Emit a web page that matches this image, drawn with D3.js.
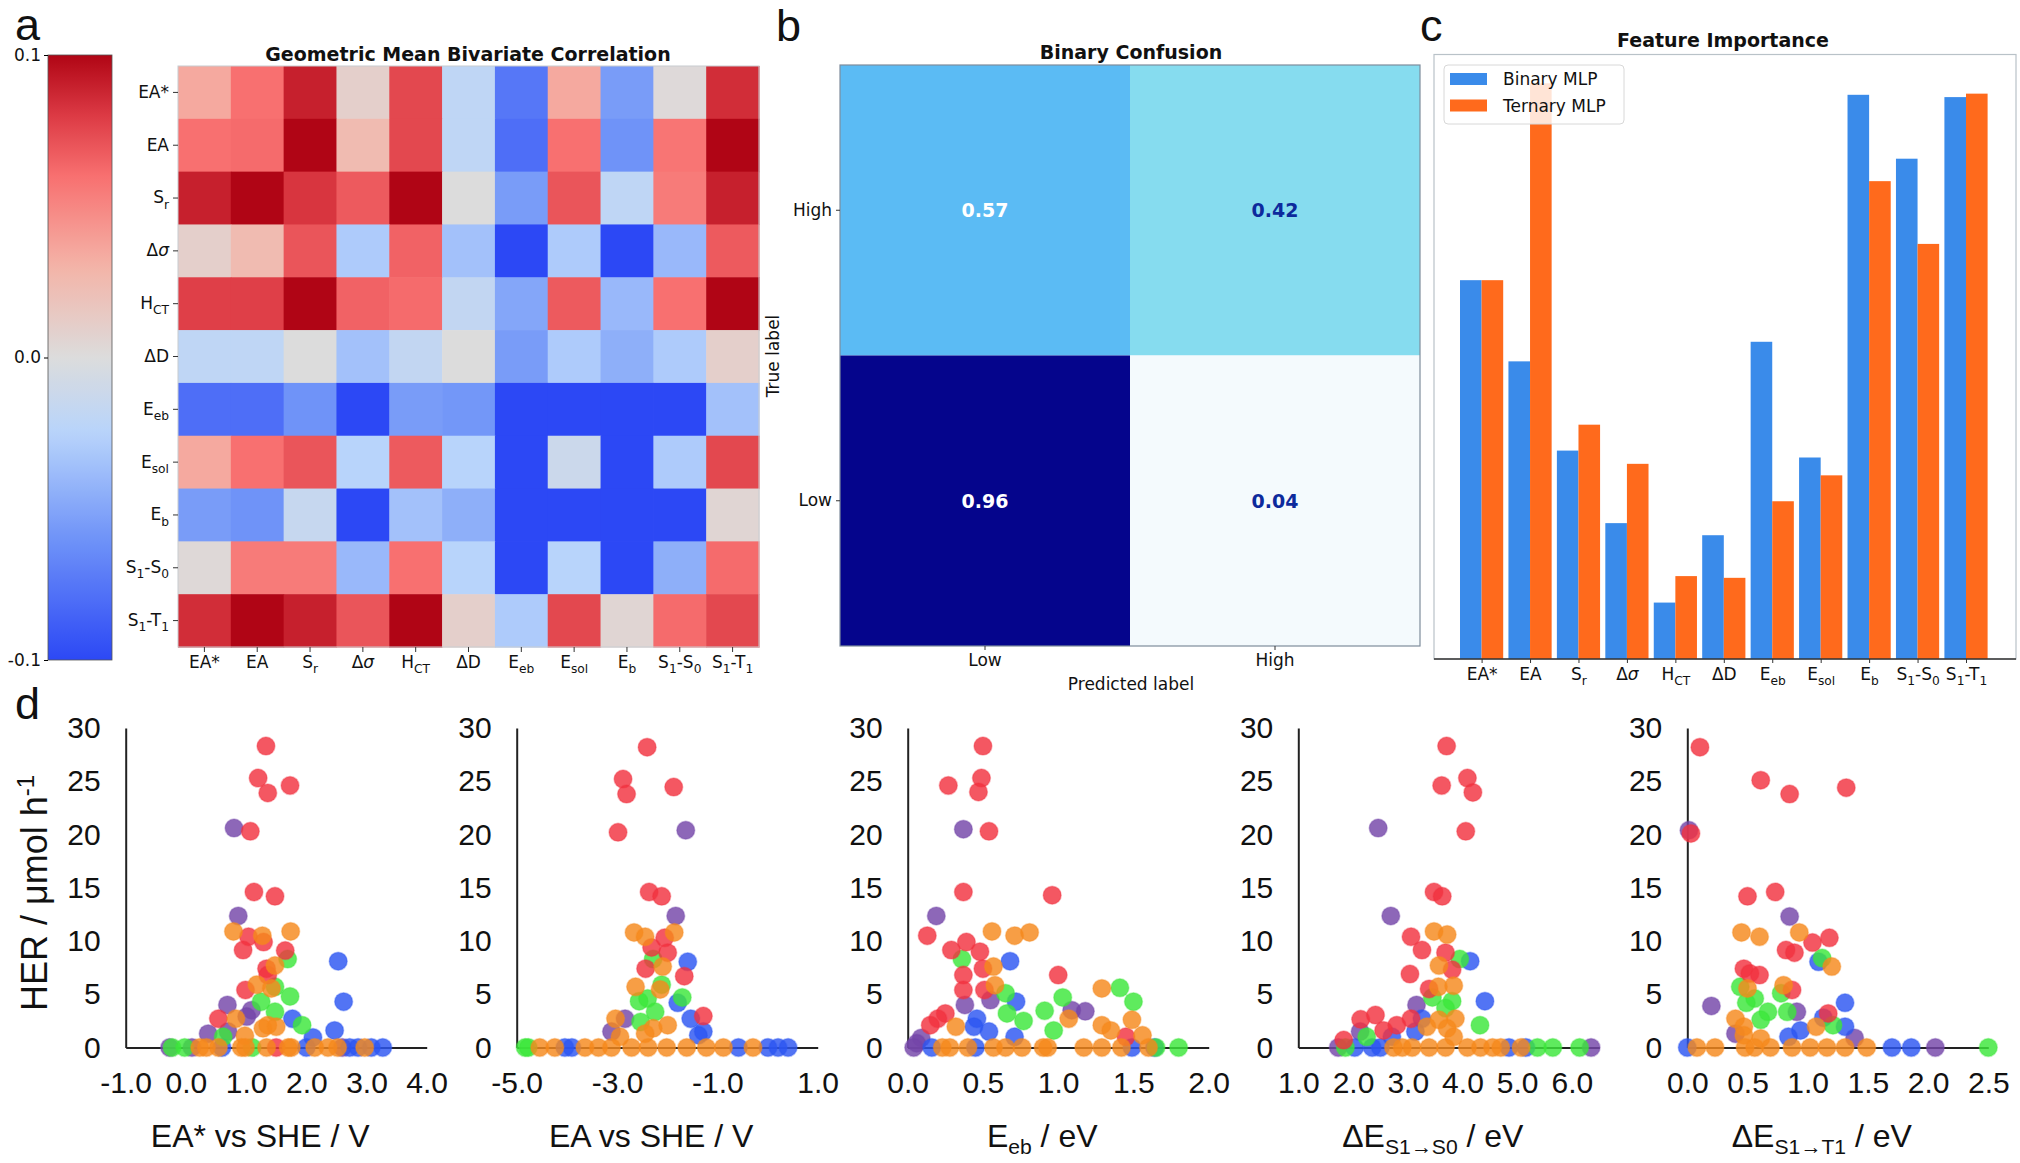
<!DOCTYPE html>
<html><head><meta charset="utf-8">
<script src="https://cdn.jsdelivr.net/npm/d3@7"></script>
<style>body{margin:0;background:#fff}svg{display:block}</style>
</head><body>
<svg id="fig" width="2020" height="1163"></svg>
<script>
// ---------------- DATA ----------------
const featureLabels = ["EA*","EA","S_{r}","Δ~{σ}","H_{CT}","ΔD","E_{eb}","E_{sol}","E_{b}","S_{1}-S_{0}","S_{1}-T_{1}"];
const corrMatrix = [
  [0.035,0.060,0.090,0.010,0.075,-0.020,-0.075,0.035,-0.055,0.002,0.085],
  [0.060,0.062,0.100,0.025,0.075,-0.020,-0.080,0.060,-0.060,0.058,0.100],
  [0.090,0.100,0.082,0.068,0.100,0.000,-0.055,0.070,-0.020,0.055,0.090],
  [0.010,0.025,0.070,-0.030,0.065,-0.035,-0.100,-0.030,-0.100,-0.040,0.068],
  [0.078,0.078,0.100,0.065,0.062,-0.018,-0.050,0.068,-0.040,0.060,0.100],
  [-0.020,-0.020,0.000,-0.035,-0.018,0.000,-0.055,-0.030,-0.045,-0.030,0.010],
  [-0.080,-0.080,-0.060,-0.100,-0.055,-0.058,-0.100,-0.100,-0.100,-0.100,-0.035],
  [0.035,0.060,0.070,-0.025,0.068,-0.025,-0.100,-0.012,-0.100,-0.030,0.075],
  [-0.055,-0.060,-0.015,-0.100,-0.035,-0.045,-0.100,-0.100,-0.100,-0.100,0.005],
  [0.003,0.055,0.055,-0.040,0.060,-0.025,-0.100,-0.025,-0.100,-0.045,0.062],
  [0.085,0.100,0.090,0.070,0.100,0.010,-0.030,0.075,0.005,0.062,0.075]
];
const colorbarTicks = [-0.1, 0.0, 0.1];

const confTrueLabels = ["High","Low"];
const confPredLabels = ["Low","High"];
const confValues = [[0.57,0.42],[0.96,0.04]];

const importanceSeries = ["Binary MLP","Ternary MLP"];
const binaryImportance  = [0.658,0.517,0.362,0.236,0.098,0.215,0.551,0.350,0.980,0.869,0.976];
const ternaryImportance = [0.658,1.000,0.407,0.339,0.144,0.141,0.274,0.319,0.830,0.721,0.982];

const herTicks = [0,5,10,15,20,25,30];
// [x, HER, group]  groups: r red, p purple, o orange, g green, b blue
const scatterEAstar = [
 [1.33,28.3,'r'],[1.20,25.3,'r'],[1.36,23.9,'r'],[1.73,24.6,'r'],[0.80,20.6,'p'],[1.07,20.3,'r'],[1.13,14.6,'r'],[1.48,14.2,'r'],[0.87,12.35,'p'],[0.79,10.9,'o'],[1.74,10.9,'o'],[1.04,10.4,'r'],[1.27,10.5,'o'],[1.29,9.9,'r'],[0.95,9.15,'r'],[1.65,9.1,'r'],[1.69,8.3,'g'],[2.53,8.1,'b'],[1.34,7.4,'r'],[1.48,7.7,'o'],[1.36,6.8,'r'],[1.18,5.9,'o'],[0.99,5.4,'r'],[1.42,5.55,'o'],[1.48,5.7,'g'],[1.73,4.8,'g'],[2.62,4.3,'b'],[0.69,4.0,'p'],[1.25,4.3,'g'],[1.48,3.35,'g'],[1.09,3.5,'p'],[0.54,2.7,'r'],[0.83,2.7,'o'],[1.01,2.9,'p'],[1.77,2.7,'b'],[1.93,2.1,'g'],[1.36,2.1,'o'],[1.28,1.8,'o'],[1.50,1.95,'o'],[0.37,1.3,'p'],[0.62,1.0,'g'],[0.70,1.5,'p'],[2.47,1.6,'b'],[2.11,0.95,'b'],[0.98,1.1,'o'],
 [-0.27,0,'p'],[-0.23,0,'g'],[-0.02,0,'g'],[0.10,0,'p'],[0.23,0,'o'],[0.34,0,'o'],[0.54,0,'o'],[0.60,0,'b'],[0.92,0,'o'],[0.99,0,'o'],[1.10,0,'g'],[1.34,0,'o'],[1.50,0,'r'],[1.70,0,'o'],[1.75,0,'o'],[2.00,0,'b'],[2.14,0,'o'],[2.36,0,'o'],[2.52,0,'o'],[2.60,0,'p'],[2.72,0,'b'],[2.86,0,'b'],[2.97,0,'o'],[3.08,0,'b'],[3.27,0,'b']
];
const scatterEA = [
 [-2.40,28.2,'r'],[-2.88,25.2,'r'],[-2.81,23.8,'r'],[-1.87,24.45,'r'],[-2.98,20.2,'r'],[-1.63,20.4,'p'],[-2.36,14.6,'r'],[-2.11,14.2,'r'],[-1.83,12.35,'p'],[-2.66,10.8,'o'],[-2.44,10.4,'o'],[-1.86,10.8,'o'],[-2.05,10.3,'r'],[-2.31,9.4,'r'],[-1.99,8.9,'r'],[-2.28,8.3,'g'],[-2.09,7.6,'o'],[-1.59,8.05,'b'],[-2.43,7.4,'r'],[-1.66,6.7,'r'],[-2.63,5.7,'o'],[-2.14,5.45,'o'],[-2.11,5.9,'g'],[-1.70,4.7,'g'],[-1.79,4.2,'b'],[-2.56,4.35,'g'],[-2.39,4.6,'g'],[-2.24,3.35,'g'],[-2.53,2.4,'g'],[-3.03,2.7,'o'],[-2.84,2.7,'p'],[-1.28,2.95,'r'],[-1.53,2.7,'b'],[-1.28,1.5,'b'],[-1.38,1.15,'b'],[-1.99,2.1,'o'],[-2.28,1.8,'o'],[-2.44,1.3,'o'],[-3.11,1.5,'p'],[-2.94,1.0,'o'],
 [-4.83,0,'g'],[-4.77,0,'g'],[-4.54,0,'o'],[-4.24,0,'o'],[-4.04,0,'b'],[-3.90,0,'b'],[-3.64,0,'o'],[-3.37,0,'o'],[-3.11,0,'o'],[-2.71,0,'o'],[-2.38,0,'o'],[-2.01,0,'o'],[-1.61,0,'o'],[-1.22,0,'o'],[-0.88,0,'o'],[-0.58,0,'b'],[-0.29,0,'o'],[0.01,0,'b'],[0.21,0,'b'],[0.41,0,'b']
];
const scatterEeb = [
 [0.50,28.3,'r'],[0.27,24.6,'r'],[0.49,25.3,'r'],[0.47,24.0,'r'],[0.37,20.5,'p'],[0.54,20.3,'r'],[0.37,14.6,'r'],[0.96,14.3,'r'],[0.19,12.35,'p'],[0.13,10.5,'r'],[0.56,10.9,'o'],[0.71,10.5,'o'],[0.81,10.8,'o'],[0.29,9.15,'r'],[0.39,9.9,'r'],[0.48,9.0,'r'],[0.36,8.3,'g'],[0.68,8.1,'b'],[0.50,7.4,'r'],[0.57,7.6,'o'],[0.37,6.8,'r'],[1.00,6.8,'r'],[0.58,5.85,'o'],[0.37,5.4,'r'],[0.51,5.4,'r'],[0.65,5.1,'g'],[1.29,5.55,'o'],[1.41,5.6,'g'],[1.03,4.7,'g'],[1.50,4.3,'g'],[0.72,4.3,'b'],[0.38,4.0,'p'],[0.55,4.45,'p'],[1.09,3.5,'p'],[1.18,3.4,'p'],[0.91,3.45,'g'],[0.77,2.5,'g'],[0.66,3.2,'g'],[0.25,3.2,'r'],[0.20,2.7,'r'],[0.15,2.1,'r'],[1.07,2.7,'o'],[1.49,2.6,'o'],[1.29,2.1,'o'],[1.35,1.6,'o'],[0.32,1.95,'o'],[0.46,2.7,'b'],[0.44,1.95,'b'],[0.54,1.5,'b'],[1.56,1.15,'o'],[0.09,0.9,'p'],[0.06,0.4,'p'],[1.45,1.0,'r'],[0.71,1.0,'b'],[0.97,1.6,'g'],
 [0.04,0,'p'],[0.16,0,'b'],[0.23,0,'o'],[0.28,0,'o'],[0.40,0,'o'],[0.45,0,'b'],[0.57,0,'o'],[0.65,0,'o'],[0.76,0,'o'],[0.90,0,'o'],[0.93,0,'o'],[1.17,0,'o'],[1.29,0,'o'],[1.42,0,'o'],[1.49,0,'b'],[1.60,0,'o'],[1.64,0,'b'],[1.65,0,'g'],[1.80,0,'g']
];
const scatterS1S0 = [
 [3.71,28.3,'r'],[3.62,24.6,'r'],[4.09,25.3,'r'],[4.19,23.95,'r'],[2.46,20.6,'p'],[4.06,20.3,'r'],[3.48,14.6,'r'],[3.63,14.2,'r'],[2.69,12.35,'p'],[3.06,10.4,'r'],[3.26,9.15,'r'],[3.48,10.9,'o'],[3.72,10.6,'o'],[3.69,8.9,'r'],[3.95,8.3,'g'],[4.14,8.1,'b'],[3.57,7.7,'o'],[3.81,7.3,'r'],[3.04,6.9,'r'],[3.56,5.7,'o'],[3.84,5.8,'o'],[3.39,5.5,'r'],[3.45,4.7,'g'],[3.81,4.35,'g'],[3.69,3.7,'g'],[4.41,4.35,'b'],[3.16,4.0,'p'],[2.14,2.65,'r'],[2.41,3.05,'r'],[2.80,2.1,'r'],[3.06,2.7,'r'],[2.56,1.6,'r'],[4.32,2.1,'g'],[3.35,1.95,'o'],[3.57,2.6,'o'],[3.87,2.7,'o'],[3.72,1.8,'o'],[3.84,1.0,'o'],[3.26,2.7,'b'],[3.14,1.5,'b'],[2.71,1.0,'b'],[2.13,1.5,'p'],[2.25,1.0,'g'],[1.83,0.7,'r'],
 [1.73,0,'p'],[1.86,0,'g'],[2.03,0,'b'],[2.35,0,'b'],[2.50,0,'b'],[2.74,0,'o'],[2.90,0,'o'],[3.08,0,'o'],[3.39,0,'o'],[3.69,0,'o'],[4.09,0,'o'],[4.33,0,'o'],[4.55,0,'o'],[4.70,0,'o'],[4.85,0,'b'],[5.07,0,'o'],[5.16,0,'b'],[5.37,0,'g'],[5.65,0,'g'],[6.14,0,'g'],[6.35,0,'p']
];
const scatterS1T1 = [
 [0.105,28.2,'r'],[0.61,25.1,'r'],[0.85,23.8,'r'],[1.32,24.4,'r'],[0.03,20.1,'r'],[0.014,20.4,'p'],[0.50,14.2,'r'],[0.73,14.6,'r'],[0.85,12.3,'p'],[0.45,10.8,'o'],[0.60,10.4,'o'],[0.93,10.8,'o'],[1.04,9.85,'r'],[1.18,10.3,'r'],[0.82,9.15,'r'],[0.89,8.9,'r'],[1.12,8.4,'g'],[1.09,8.05,'b'],[1.20,7.6,'o'],[0.47,7.4,'r'],[0.52,6.95,'r'],[0.60,6.8,'r'],[0.44,5.7,'g'],[0.50,5.55,'o'],[0.80,5.85,'o'],[0.87,5.4,'r'],[0.78,5.1,'g'],[0.56,4.6,'g'],[0.49,4.2,'g'],[1.31,4.2,'b'],[0.20,3.9,'p'],[0.67,3.35,'g'],[0.83,3.35,'g'],[0.61,2.6,'g'],[0.91,3.35,'p'],[1.17,3.2,'r'],[1.13,2.8,'b'],[0.40,2.7,'o'],[0.47,1.95,'o'],[0.47,1.15,'o'],[1.07,1.95,'o'],[1.31,1.95,'b'],[0.94,1.6,'b'],[0.84,1.0,'b'],[0.40,1.3,'p'],[1.21,2.1,'g'],[1.39,0.9,'p'],[0.61,0.85,'o'],
 [0.0,0,'b'],[0.08,0,'o'],[0.23,0,'o'],[0.48,0,'o'],[0.56,0,'o'],[0.69,0,'o'],[0.87,0,'o'],[1.02,0,'o'],[1.16,0,'o'],[1.31,0,'o'],[1.49,0,'o'],[1.70,0,'b'],[1.86,0,'b'],[2.06,0,'p'],[2.50,0,'g']
];
const scatterTitles = ["EA* vs SHE / V","EA vs SHE / V","E_{eb} / eV","ΔE_{S1→S0} / eV","ΔE_{S1→T1} / eV"];
const scatterDomains = [[-1,4],[-5,1],[0,2],[1,6.5],[0,2.5]];
const scatterTicks = [[-1,0,1,2,3,4],[-5,-3,-1,1],[0,0.5,1,1.5,2],[1,2,3,4,5,6],[0,0.5,1,1.5,2,2.5]];

// ---------------- HELPERS ----------------
const svg = d3.select("#fig");
const FM = "'DejaVu Sans', sans-serif";
const FA = "'Liberation Sans', Arial, sans-serif";

function rich(textSel, s, subScale, subShift) {
  textSel.text(null);
  const parts = s.split(/(_\{[^}]*\}|~\{[^}]*\})/).filter(p => p.length);
  let shifted = false;
  const fs = parseFloat(textSel.attr("font-size")) || 17;
  parts.forEach(p => {
    const t = textSel.append("tspan");
    if (p.startsWith("_{")) {
      t.text(p.slice(2,-1)).attr("font-size", fs*subScale).attr("dy", shifted ? 0 : fs*subShift);
      shifted = true;
    } else {
      if (shifted) { t.attr("dy", -fs*subShift); shifted = false; }
      if (p.startsWith("~{")) t.text(p.slice(2,-1)).attr("font-style","italic");
      else t.text(p);
    }
  });
}

// panel letters
[["a",15,40],["b",776,41],["c",1420,41],["d",15,719]].forEach(([t,x,y]) =>
  svg.append("text").attr("x",x).attr("y",y).attr("font-family",FA).attr("font-size",45).attr("fill","#111").text(t));

// ---------------- PANEL A ----------------
const corrColor = d3.scaleLinear()
  .domain([-0.1,-0.06,-0.025,0,0.03,0.06,0.08,0.1])
  .range(["#2c48f5","#6f93f8","#b8d4fb","#dcdcdc","#f4b4a8","#f87070","#dc3a44","#b00515"])
  .clamp(true);

const gA = svg.append("g");
const hmX = d3.scaleBand().domain(d3.range(featureLabels.length)).range([178,759]);
const hmY = d3.scaleBand().domain(d3.range(featureLabels.length)).range([66,647]);
corrMatrix.forEach((row,i) => row.forEach((v,j) => {
  gA.append("rect").attr("x",hmX(j)).attr("y",hmY(i))
    .attr("width",hmX.bandwidth()+0.6).attr("height",hmY.bandwidth()+0.6)
    .attr("fill",corrColor(v));
}));
gA.append("rect").attr("x",178).attr("y",66).attr("width",581).attr("height",581)
  .attr("fill","none").attr("stroke","#c8ccd0").attr("stroke-width",1);

const axAy = gA.append("g").attr("transform","translate(178,0)")
  .call(d3.axisLeft(hmY).tickSize(5).tickPadding(4).tickFormat(i => featureLabels[i]));
const axAx = gA.append("g").attr("transform","translate(0,647)")
  .call(d3.axisBottom(hmX).tickSize(5).tickPadding(4).tickFormat(i => featureLabels[i]));
[axAy, axAx].forEach(ax => {
  ax.select(".domain").remove();
  ax.selectAll(".tick line").attr("stroke","#333");
  ax.selectAll("text").attr("font-family",FM).attr("font-size",17).attr("fill","#111")
    .each(function(i){ rich(d3.select(this), featureLabels[i], 0.72, 0.3); });
});
gA.append("text").attr("x",468).attr("y",61).attr("text-anchor","middle")
  .attr("font-family",FM).attr("font-weight","bold").attr("font-size",19).attr("fill","#111")
  .text("Geometric Mean Bivariate Correlation");

// colorbar
const defs = svg.append("defs");
const grad = defs.append("linearGradient").attr("id","cbgrad").attr("x1",0).attr("y1",1).attr("x2",0).attr("y2",0);
d3.range(0,1.0001,0.02).forEach(t => grad.append("stop").attr("offset",t).attr("stop-color",corrColor(-0.1+0.2*t)));
svg.append("rect").attr("x",48).attr("y",55).attr("width",64).attr("height",605)
  .attr("fill","url(#cbgrad)").attr("stroke","#555").attr("stroke-width",0.8);
const cbScale = d3.scaleLinear().domain([-0.1,0.1]).range([660,55]);
const cbAx = svg.append("g").attr("transform","translate(48,0)")
  .call(d3.axisLeft(cbScale).tickValues(colorbarTicks).tickSize(4).tickPadding(3).tickFormat(d => d.toFixed(1)));
cbAx.select(".domain").remove();
cbAx.selectAll("text").attr("font-family",FM).attr("font-size",17).attr("fill","#111");

// ---------------- PANEL B ----------------
const gB = svg.append("g");
const cbX = d3.scaleBand().domain(confPredLabels).range([840,1420]);
const cbY = d3.scaleBand().domain(confTrueLabels).range([65,646]);
const confColor = d3.scaleLinear().domain([0.04,0.42,0.57,0.96])
  .range(["#f4fafd","#86dcef","#5bbbf4","#05058c"]);
confValues.forEach((row,i) => row.forEach((v,j) => {
  const x = cbX(confPredLabels[j]), y = cbY(confTrueLabels[i]);
  gB.append("rect").attr("x",x).attr("y",y).attr("width",cbX.bandwidth()).attr("height",cbY.bandwidth())
    .attr("fill",confColor(v));
  gB.append("text").attr("x",x+cbX.bandwidth()/2).attr("y",y+cbY.bandwidth()/2).attr("dy","0.36em")
    .attr("text-anchor","middle").attr("font-family",FM).attr("font-weight","bold").attr("font-size",19)
    .attr("fill", v > 0.5 ? "#ffffff" : "#0d2a9c").text(v.toFixed(2));
}));
gB.append("rect").attr("x",840).attr("y",65).attr("width",580).attr("height",581)
  .attr("fill","none").attr("stroke","#7e8c9c").attr("stroke-width",1.2);
const bAy = gB.append("g").attr("transform","translate(840,0)").call(d3.axisLeft(cbY).tickSize(4).tickPadding(4));
const bAx = gB.append("g").attr("transform","translate(0,646)").call(d3.axisBottom(cbX).tickSize(4).tickPadding(4));
[bAy,bAx].forEach(ax => {
  ax.select(".domain").remove();
  ax.selectAll(".tick line").attr("stroke","#333");
  ax.selectAll("text").attr("font-family",FM).attr("font-size",17).attr("fill","#111");
});
gB.append("text").attr("x",1131).attr("y",59).attr("text-anchor","middle").attr("font-family",FM)
  .attr("font-weight","bold").attr("font-size",19).attr("fill","#111").text("Binary Confusion");
gB.append("text").attr("x",1131).attr("y",690).attr("text-anchor","middle").attr("font-family",FM)
  .attr("font-size",17).attr("fill","#111").text("Predicted label");
gB.append("text").attr("transform","translate(779,356) rotate(-90)").attr("text-anchor","middle").attr("font-family",FM)
  .attr("font-size",17).attr("fill","#111").text("True label");

// ---------------- PANEL C ----------------
const gC = svg.append("g");
const fiX = d3.scalePoint().domain(d3.range(featureLabels.length)).range([1481.6,1966]);
const fiY = d3.scaleLinear().domain([0,1.05]).range([659,54.5]);
const barW = 21.6;
const seriesColors = ["#3a8bea","#ff6a1c"];
gC.append("rect").attr("x",1434).attr("y",54.5).attr("width",582).attr("height",604.5)
  .attr("fill","none").attr("stroke","#b9c2c8").attr("stroke-width",1.2);
[binaryImportance, ternaryImportance].forEach((vals,s) => {
  gC.selectAll(null).data(vals).enter().append("rect")
    .attr("x",(d,i) => fiX(i) + (s === 0 ? -barW : 0))
    .attr("y",d => fiY(d)).attr("width",barW).attr("height",d => 659 - fiY(d))
    .attr("fill",seriesColors[s]);
});
const cAx = gC.append("g").attr("transform","translate(0,659)")
  .call(d3.axisBottom(fiX).tickSize(4).tickPadding(5).tickFormat(i => featureLabels[i]));
cAx.select(".domain").attr("d","M1434,0H2016").attr("stroke","#333").attr("stroke-width",1.3);
cAx.selectAll(".tick line").attr("stroke","#333");
cAx.selectAll("text").attr("font-family",FM).attr("font-size",17).attr("fill","#111")
  .each(function(i){ rich(d3.select(this), featureLabels[i], 0.72, 0.3); });
gC.append("text").attr("x",1723).attr("y",47).attr("text-anchor","middle").attr("font-family",FM)
  .attr("font-weight","bold").attr("font-size",19).attr("fill","#111").text("Feature Importance");
const leg = gC.append("g");
leg.append("rect").attr("x",1444).attr("y",65).attr("width",180).attr("height",59).attr("rx",4)
  .attr("fill","#fff").attr("fill-opacity",0.82).attr("stroke","#d8d8d8");
importanceSeries.forEach((name,k) => {
  leg.append("rect").attr("x",1450).attr("y",73+k*26.5).attr("width",37).attr("height",12).attr("fill",seriesColors[k]);
  leg.append("text").attr("x",1503).attr("y",85+k*26.5).attr("font-family",FM).attr("font-size",17)
    .attr("fill","#111").text(name);
});

// ---------------- PANEL D ----------------
const groupColors = {r:"#f2323f", p:"#7446a8", o:"#f5891c", g:"#3ce63a", b:"#2c55f2"};
const drawOrder = ["p","b","g","r","o"];
const scatterData = [scatterEAstar, scatterEA, scatterEeb, scatterS1S0, scatterS1T1];
const plotLefts = [125.7, 516.7, 907.7, 1298.3, 1687.3];
const plotW = 301;
scatterData.forEach((data, k) => {
  const g = svg.append("g");
  const x = d3.scaleLinear().domain(scatterDomains[k]).range([plotLefts[k], plotLefts[k]+plotW]);
  const y = d3.scaleLinear().domain([0,30]).range([1047.5,728]);
  const ya = g.append("g").attr("transform",`translate(${plotLefts[k]},0)`)
    .call(d3.axisLeft(y).tickValues(herTicks).tickSize(0).tickPadding(25).tickSizeOuter(0));
  const xa = g.append("g").attr("transform","translate(0,1047.5)")
    .call(d3.axisBottom(x).tickValues(scatterTicks[k]).tickSize(0).tickPadding(24).tickSizeOuter(0)
      .tickFormat(d => d.toFixed(1)));
  [ya,xa].forEach(ax => {
    ax.select(".domain").attr("stroke","#222").attr("stroke-width",2);
    ax.selectAll("text").attr("font-family",FA).attr("font-size",30).attr("fill","#111");
  });
  const sorted = data.slice().sort((a,b) => drawOrder.indexOf(a[2]) - drawOrder.indexOf(b[2]));
  g.selectAll("circle").data(sorted).enter().append("circle")
    .attr("cx",d => x(d[0])).attr("cy",d => y(d[1])).attr("r",9)
    .attr("fill",d => groupColors[d[2]]).attr("fill-opacity",0.82)
    .attr("stroke",d => groupColors[d[2]]).attr("stroke-opacity",0.35).attr("stroke-width",1.5);
  const t = g.append("text").attr("x",plotLefts[k]+plotW/2-16).attr("y",1147).attr("text-anchor","middle")
    .attr("font-family",FA).attr("font-size",32).attr("fill","#111");
  rich(t, scatterTitles[k], 0.66, 0.22);
});
const yl = svg.append("text").attr("transform","translate(34,893) rotate(-90)").attr("text-anchor","middle")
  .attr("dy","0.35em").attr("font-family",FA).attr("font-size",36).attr("fill","#111");
yl.append("tspan").text("HER / μmol h");
yl.append("tspan").text("-1").attr("font-size",24).attr("dy",-13);
</script>
</body></html>
